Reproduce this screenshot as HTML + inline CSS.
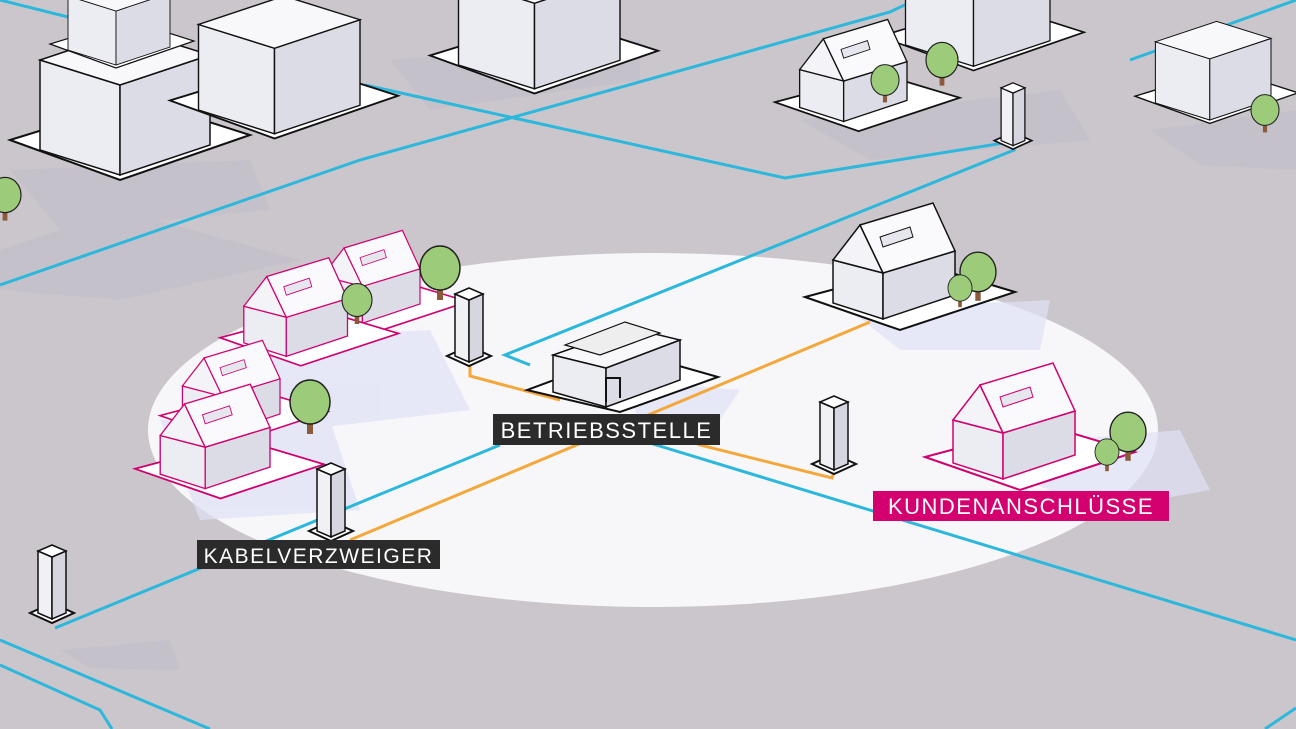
<!DOCTYPE html>
<html><head><meta charset="utf-8"><style>
html,body{margin:0;padding:0;background:#cbc6cb;}
svg{display:block}
text{font-family:"Liberation Sans",sans-serif;}
</style></head><body>
<svg width="1296" height="729" viewBox="0 0 1296 729" xmlns="http://www.w3.org/2000/svg">
<defs>
<g id="house">
 <polygon points="0,82 95,115 210,77 120,50" fill="#fff" stroke-width="2"/>
 <polygon points="28,45 28,88 78,104 78,58" fill="#ececf3" stroke-width="1.5"/>
 <polygon points="78,58 78,104 150,80 150,36" fill="#dcdce6" stroke-width="1.5"/>
 <polygon points="28,45 55,10 78,58" fill="#f4f4f8" stroke-width="1.5"/>
 <polygon points="55,10 128,-12 150,36 78,58" fill="#fafafd" stroke-width="1.5"/>
 <polygon points="75,22 105,12 108,22 78,32" fill="#e6e6ee" stroke-width="1"/>
</g>
<g id="kvz">
 <polygon points="-22,36 0,46 22,36 0,26" fill="#fff" stroke="#111" stroke-width="2"/>
 <polygon points="-14,-26 -14,36 0,42 0,-20" fill="#f0f0f5" stroke="#111" stroke-width="1.5"/>
 <polygon points="0,-20 0,42 14,36 14,-26" fill="#d6d6e0" stroke="#111" stroke-width="1.5"/>
 <polygon points="-14,-26 0,-20 14,-26 0,-32" fill="#fff" stroke="#111" stroke-width="1.5"/>
</g>
<g id="tree">
 <rect x="-3" y="10" width="6" height="22" fill="#8a5a3a"/>
 <ellipse cx="0" cy="0" rx="20" ry="22" fill="#9ccc7a" stroke="#222" stroke-width="1.5"/>
</g>
<g id="apt">
 <polygon points="0,90 110,130 240,85 130,50" fill="#fff" stroke="#111" stroke-width="2"/>
 <polygon points="30,10 30,100 110,125 110,35" fill="#ececf3" stroke="#111" stroke-width="1.5"/>
 <polygon points="110,35 110,125 200,95 200,5" fill="#dcdce6" stroke="#111" stroke-width="1.5"/>
 <polygon points="30,10 110,35 200,5 120,-20" fill="#f8f8fb" stroke="#111" stroke-width="1.5"/>
</g>
</defs>

<ellipse cx="653" cy="430" rx="505" ry="177" fill="#f7f7f9"/>
<g fill="#b9b8cc" opacity="0.35">
 <polygon points="0,250 120,210 300,260 120,300 0,290"/>
 <polygon points="10,170 250,160 270,210 60,230"/>
 <polygon points="390,60 640,40 640,80 430,110"/>
 <polygon points="800,120 1060,90 1090,140 870,160"/>
 <polygon points="1150,130 1296,110 1296,170 1200,165"/>
 <polygon points="60,650 170,640 180,670 90,668"/>
</g>
<g fill="#dfe1f6" opacity="0.7">
 <polygon points="230,340 430,330 470,410 300,430"/>
 <polygon points="160,420 330,420 360,510 200,520"/>
 <polygon points="850,310 1050,300 1040,350 900,350"/>
 <polygon points="950,450 1180,430 1210,490 1100,510"/>
 <polygon points="620,380 740,390 720,420 640,420"/>
</g>

<g fill="none" stroke="#2cb7dc" stroke-width="3">
 <polyline points="0,285 360,160 890,12 915,0"/>
 <polyline points="365,85 785,178 1010,142 1010,130"/>
 <polyline points="1010,140 1014,150 505,355 530,365"/>
 <polyline points="55,628 500,445"/>
 <polyline points="640,440 1296,640"/>
 <polyline points="0,665 100,710 112,729"/>
 <polyline points="0,640 210,729"/>
 <polyline points="1296,0 1130,60"/>
 <polyline points="0,0 120,30"/>
 <polyline points="1296,708 1265,729"/>
</g>
<g fill="none" stroke="#f4a73b" stroke-width="3">
 <polyline points="470,360 470,376 560,400"/>
 <polyline points="350,540 870,322"/>
 <polyline points="650,420 700,445 832,478 835,468"/>
</g>

<use href="#apt" transform="translate(10,50)"/>
<use href="#apt" transform="translate(170,15) scale(0.95)"/>
<use href="#apt" transform="translate(50,-10) scale(0.6)"/>
<use href="#apt" transform="translate(430,-30) scale(0.95)"/>
<use href="#apt" transform="translate(880,-40) scale(0.85)"/>
<use href="#apt" transform="translate(1135,35) scale(0.68)"/>
<use href="#house" stroke="#111" transform="translate(775,30) scale(0.88)"/>
<use href="#tree" transform="translate(885,80) scale(0.7)"/>
<use href="#tree" transform="translate(942,60) scale(0.8)"/>
<use href="#tree" transform="translate(1265,110) scale(0.7)"/>
<use href="#tree" transform="translate(5,195) scale(0.8)"/>
<use href="#kvz" transform="translate(1013,110) scale(0.85)"/>

<!-- highlighted houses (pink) -->
<use href="#house" stroke="#d0006f" transform="translate(300,240) scale(0.8)"/>
<use href="#house" stroke="#d0006f" transform="translate(220,268) scale(0.85)"/>
<use href="#tree" transform="translate(357,300) scale(0.75)"/>
<use href="#tree" transform="translate(440,268) scale(1)"/>
<use href="#house" stroke="#d0006f" transform="translate(160,350) scale(0.8)"/>
<use href="#house" stroke="#d0006f" transform="translate(135,395) scale(0.9)"/>
<use href="#tree" transform="translate(310,402) scale(1)"/>
<use href="#house" stroke="#111" transform="translate(805,215)"/>
<use href="#tree" transform="translate(978,272) scale(0.9)"/>
<use href="#tree" transform="translate(960,288) scale(0.6)"/>
<use href="#house" stroke="#d0006f" transform="translate(925,375)"/>
<use href="#tree" transform="translate(1128,432) scale(0.9)"/>
<use href="#tree" transform="translate(1107,452) scale(0.6)"/>

<polygon points="527,390 620,412 718,377 630,352" fill="#fff" stroke="#111" stroke-width="2"/>
<polygon points="553,355 553,392 606,407 606,368" fill="#ececf3" stroke="#111" stroke-width="1.5"/>
<polygon points="606,368 606,407 680,380 680,340" fill="#dcdce6" stroke="#111" stroke-width="1.5"/>
<polygon points="553,355 606,368 680,340 630,328" fill="#f8f8fb" stroke="#111" stroke-width="1.5"/>
<polygon points="565,345 600,355 660,333 625,322" fill="#eee" stroke="#111" stroke-width="1.2"/>
<path d="M606,402 V378 H620 V398" fill="none" stroke="#111" stroke-width="2"/>

<use href="#kvz" transform="translate(469,320)"/>
<use href="#kvz" transform="translate(331,495)"/>
<use href="#kvz" transform="translate(834,428)"/>
<use href="#kvz" transform="translate(52,577)"/>

<rect x="493" y="414" width="227" height="31" fill="#2b2b2b"/>
<text x="606.5" y="438" fill="#fff" font-size="22" text-anchor="middle" letter-spacing="1.5">BETRIEBSSTELLE</text>
<rect x="197" y="540" width="243" height="29" fill="#2b2b2b"/>
<text x="318.5" y="563" fill="#fff" font-size="21" text-anchor="middle" letter-spacing="1.5">KABELVERZWEIGER</text>
<rect x="873" y="491" width="296" height="30" fill="#d4006f"/>
<text x="1021" y="514" fill="#fff" font-size="22" text-anchor="middle" letter-spacing="1.5">KUNDENANSCHLÜSSE</text>
</svg>
</body></html>
